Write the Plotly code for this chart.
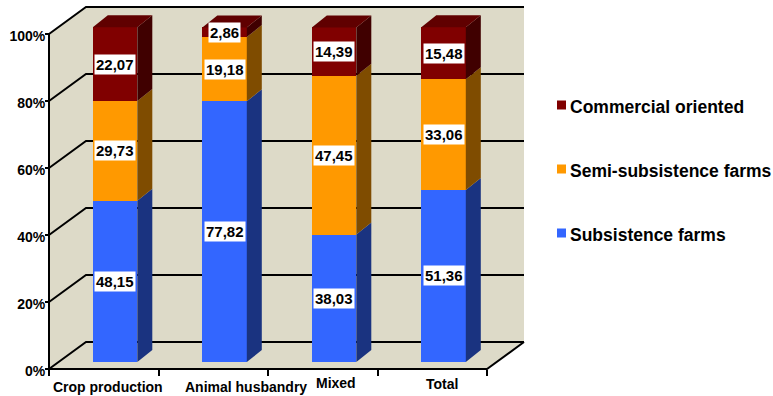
import plotly.graph_objects as go

# ---- data ----
categories = ["Crop production", "Animal husbandry", "Mixed", "Total"]
series_names = ["Subsistence farms", "Semi-subsistence farms", "Commercial oriented"]
subsistence = [48.15, 77.82, 38.03, 51.36]
semi_subsistence = [29.73, 19.18, 47.45, 33.06]
commercial = [22.07, 2.86, 14.39, 15.48]
y_ticks = [0, 20, 40, 60, 80, 100]
y_tick_labels = ["0%", "20%", "40%", "60%", "80%", "100%"]

series_values = [subsistence, semi_subsistence, commercial]

# ---- styling ----
W, H = 773, 396
L, R, T, B = 39, 530, 3, 374          # plot area box in pixels
X0PX, UX = 49, 109.5                  # pixel of x=0, pixels per category
Y0PX, UY = 369, 3.35                  # pixel of y=0, pixels per percent

x_range = [(L - X0PX) / UX, (R - X0PX) / UX]
y_range = [(Y0PX - B) / UY, (Y0PX - T) / UY]

# depth of the chart box (walls / floor)
WDX, WDY = 37 / UX, 27 / UY
# bar front face offset into the box, bar width and bar depth
BFX, BFY = 11.3 / UX, 7 / UY
BW = 44.5 / UX
BDX, BDY = 15 / UX, 12 / UY

WALL = "#DDDAC8"
FRONT = ["#3366FF", "#FF9900", "#800000"]
SIDE = ["#1A3380", "#7F4C00", "#400000"]
TOP = ["#264DBF", "#BF7300", "#600000"]

FONT = "Liberation Sans, Arial, sans-serif"
LABEL_FONT = "Liberation Sans Narrow, Arial Narrow, Liberation Sans, Arial, sans-serif"


def px_x(px):
    return (px - L) / (R - L)


def px_y(py):
    return (B - py) / (B - T)


def path(points):
    return "M " + " L ".join(f"{x},{y}" for x, y in points) + " Z"


n = len(categories)
fig = go.Figure()
shapes = []
annotations = []

# chart box: back wall, side wall and floor in one outline
shapes.append(dict(
    type="path", xref="x", yref="y", layer="below",
    path=path([(0, 0), (n, 0), (n + WDX, WDY), (n + WDX, 100 + WDY),
               (WDX, 100 + WDY), (0, 100)]),
    fillcolor=WALL, line=dict(width=0),
))

# gridlines running along side wall and back wall
for v in y_ticks:
    shapes.append(dict(
        type="path", xref="x", yref="y", layer="below",
        path=f"M 0,{v} L {WDX},{v + WDY} L {n + WDX},{v + WDY}",
        line=dict(color="black", width=2),
    ))

# value axis edge, category axis edge and floor's right edge
shapes.append(dict(type="line", xref="x", yref="y", layer="below",
                   x0=0, y0=0, x1=0, y1=100, line=dict(color="black", width=2)))
shapes.append(dict(type="path", xref="x", yref="y", layer="below",
                   path=f"M 0,0 L {n},0 L {n + WDX},{WDY}",
                   line=dict(color="black", width=2)))

# stacked 3D columns
cum = [0.0] * n
for s, vals in enumerate(series_values):
    xs = [i + 0.5 + BFX for i in range(n)]
    bases = [c + BFY for c in cum]
    fig.add_trace(go.Bar(
        x=xs, y=vals, base=bases, width=BW, name=series_names[s],
        marker=dict(color=FRONT[s], line=dict(width=0)),
        showlegend=False, hoverinfo="skip",
    ))
    for i in range(n):
        xl, xr = xs[i] - BW / 2, xs[i] + BW / 2
        b, t = bases[i], bases[i] + vals[i]
        # right side face of this segment
        shapes.append(dict(
            type="path", xref="x", yref="y", layer="above",
            path=path([(xr, b), (xr + BDX, b + BDY), (xr + BDX, t + BDY), (xr, t)]),
            fillcolor=SIDE[s], line=dict(width=0),
        ))
        # top face only on the last segment
        if s == len(series_values) - 1:
            shapes.append(dict(
                type="path", xref="x", yref="y", layer="above",
                path=path([(xl, t), (xl + BDX, t + BDY), (xr + BDX, t + BDY), (xr, t)]),
                fillcolor=TOP[s], line=dict(width=0),
            ))
        annotations.append(dict(
            x=xs[i], y=b + vals[i] / 2, xref="x", yref="y",
            text=f"{vals[i]:.2f}".replace(".", ","), showarrow=False,
            bgcolor="white", borderpad=1,
            font=dict(family=LABEL_FONT, size=15, color="black", weight="bold"),
        ))
    cum = [c + v for c, v in zip(cum, vals)]

# category labels under the floor
cat_dx = [0.04, 0.30, 0.12, 0.09]
cat_py = [387.5, 387.5, 383, 383.5]
for i, name in enumerate(categories):
    annotations.append(dict(
        x=i + 0.5 + cat_dx[i], y=px_y(cat_py[i]), xref="x", yref="paper",
        text=name, showarrow=False, xanchor="center", yanchor="middle",
        font=dict(family=FONT, size=14, color="black", weight="bold"),
    ))

# legend, top entry is the top segment
legend_py = [107, 171, 235]
for k, s in enumerate(reversed(range(len(series_names)))):
    cy = legend_py[k]
    shapes.append(dict(
        type="rect", xref="paper", yref="paper",
        x0=px_x(557), x1=px_x(566), y0=px_y(cy - 6.5), y1=px_y(cy + 2.5),
        fillcolor=FRONT[s], line=dict(width=0),
    ))
    annotations.append(dict(
        x=px_x(568), y=px_y(cy), xref="paper", yref="paper",
        text=series_names[s], showarrow=False, xanchor="left", yanchor="middle",
        font=dict(family=FONT, size=17.5, color="black", weight="bold"),
    ))

fig.update_layout(
    width=W, height=H,
    margin=dict(l=L, r=W - R, t=T, b=H - B, pad=0),
    paper_bgcolor="white", plot_bgcolor="rgba(0,0,0,0)",
    barmode="overlay", bargap=0,
    shapes=shapes, annotations=annotations,
    xaxis=dict(
        range=x_range, anchor="free", position=px_y(Y0PX),
        showgrid=False, zeroline=False, showline=False,
        tickmode="array", tickvals=list(range(n + 1)), ticks="outside",
        ticklen=6, tickwidth=2, tickcolor="black", showticklabels=False,
        fixedrange=True,
    ),
    yaxis=dict(
        range=y_range, anchor="free", position=px_x(X0PX),
        showgrid=False, zeroline=False, showline=False,
        tickmode="array", tickvals=y_ticks, ticktext=y_tick_labels,
        ticks="outside", ticklen=4, tickwidth=1.5, tickcolor="black",
        ticklabelshift=2, ticklabelstandoff=-3,
        tickfont=dict(family=FONT, size=14, color="black", weight="bold"),
        fixedrange=True,
    ),
    showlegend=False,
)

fig.write_html("out.html")
